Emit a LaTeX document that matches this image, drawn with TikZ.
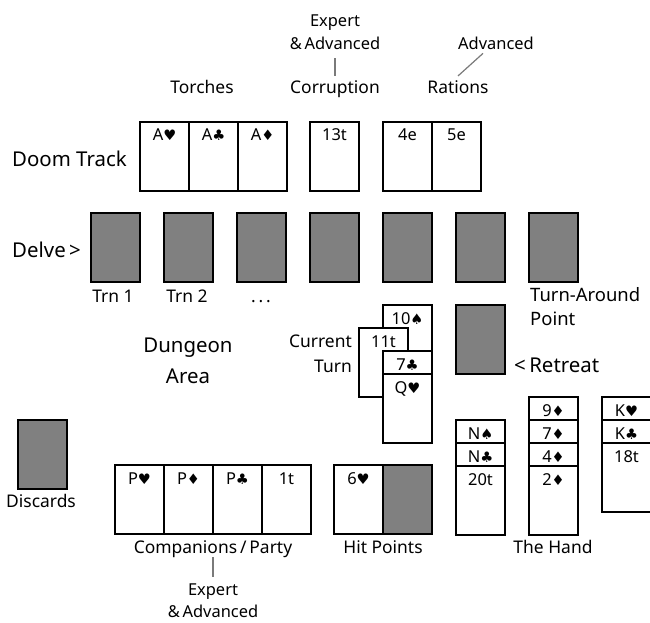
\documentclass[tikz,border=0pt]{standalone}
\usepackage{fontspec}
\setmainfont{Noto Sans}
\newfontfamily\suitfont[Scale=0.88]{DejaVu Sans}
\newcommand\suitH{{\suitfont ♥}}
\newcommand\suitC{{\suitfont ♣}}
\newcommand\suitD{{\suitfont ♦}}
\newcommand\suitS{{\suitfont ♠}}
\definecolor{cardgray}{HTML}{808080}
\definecolor{linegray}{HTML}{7A7A7A}
\newcommand\cardnode[4][card]{%
  \node[#1] (#2) at (#3) {};
  \node[ctext] (#2t) at ([yshift=-19bp]#2.north) {#4};}
\begin{document}
\begin{tikzpicture}[x=1bp,y=-1bp,
  card/.style={draw=black, line width=1.6bp, fill=white, minimum width=49bp,
    minimum height=69bp, anchor=north west, inner sep=0pt, outer sep=0pt},
  back/.style={card, fill=cardgray},
  ctext/.style={anchor=base, inner sep=0pt, font=\fontsize{16.5}{18}\selectfont},
  big/.style={inner sep=0pt, font=\fontsize{20.5}{24}\selectfont},
  lbl/.style={inner sep=0pt, font=\fontsize{17.5}{20}\selectfont},
  small/.style={inner sep=0pt, font=\fontsize{16.5}{19}\selectfont},
  conn/.style={draw=linegray, line width=1.2bp}]
\fill[white] (0,0) rectangle (650,623);
\useasboundingbox (0,0) rectangle (650,623);

% --- top labels
\node[small, anchor=base] (exA) at (335,27) {Expert};
\node[small, anchor=base] (exB) at (335,50) {\&\,Advanced};
\node[small, anchor=base] (adv) at (496,50) {Advanced};
\node[lbl, anchor=base] (torch) at (202,94) {Torches};
\node[lbl, anchor=base] (corr) at (335,94) {Corruption};
\node[lbl, anchor=base] (rat) at (458,94) {Rations};
\draw[conn] ([yshift=-8bp]exB.south) -- ([yshift=5bp]corr.north);
\draw[conn] ([xshift=-13bp,yshift=-3bp]adv.south) -- ([yshift=5bp]rat.north);

% --- doom track
\node[big, anchor=base west] (doom) at (12,167) {Doom Track};
\cardnode{tA}{140,122}{A\suitH}
\cardnode{tB}{189,122}{A\suitC}
\cardnode{tC}{238,122}{A\suitD}
\cardnode{cor}{310,122}{13t}
\cardnode{rA}{383,122}{4e}
\cardnode{rB}{432,122}{5e}

% --- delve row
\node[big, anchor=base west] (delve) at (12,257) {Delve\,>};
\node[back] (d1) at (91,213) {};
\node[back] (d2) at (164,213) {};
\node[back] (d3) at (237,213) {};
\node[back] (d4) at (310,213) {};
\node[back] (d5) at (383,213) {};
\node[back] (d6) at (456,213) {};
\node[back] (d7) at (529,213) {};
\node[lbl, anchor=base] (trn1) at (113,302) {Trn 1};
\node[lbl, anchor=base] (trn2) at (187,302) {Trn 2};
\node[lbl, anchor=base] (dots) at (261,302) {.\,.\,.};
\node[lbl, anchor=base west, font=\fontsize{18.5}{20}\selectfont] (tap1) at (530,301) {Turn-Around};
\node[lbl, anchor=base west, font=\fontsize{18.5}{20}\selectfont] (tap2) at (530,325) {Point};

% --- dungeon area
\node[big, anchor=base] (dung1) at (188,352) {Dungeon};
\node[big, anchor=base] (dung2) at (188,383) {Area};
\node[lbl, anchor=base east] (cur1) at (352,347) {Current};
\node[lbl, anchor=base east] (cur2) at (352,372) {Turn};
\cardnode{s1}{383,305}{10\suitS}
\cardnode{s2}{359,328}{11t}
\cardnode{s3}{383,351}{7\suitC}
\cardnode{s4}{383,374}{Q\suitH}
\node[back] (ret) at (456,305) {};
\node[big, anchor=base west] (retl) at (514,372) {<\,Retreat};

% --- discards
\node[back] (disc) at (18,420) {};
\node[lbl, anchor=base] (discl) at (41,507) {Discards};

% --- companions / party
\cardnode{pA}{115,465}{P\suitH}
\cardnode{pB}{164,465}{P\suitD}
\cardnode{pC}{213,465}{P\suitC}
\cardnode{pD}{262,465}{1t}
\node[lbl, anchor=base] (party) at (213,553) {Companions\,/\,Party};
\node[small, anchor=base] (exC) at (213,595) {Expert};
\node[small, anchor=base] (exD) at (213,617) {\&\,Advanced};
\draw[conn] (party.south) -- ([yshift=6bp]exC.north);

% --- hit points
\cardnode{hA}{334,465}{6\suitH}
\node[back] (hB) at (383,465) {};
\node[lbl, anchor=base] (hpl) at (383,553) {Hit Points};

% --- the hand
\cardnode{a1}{456,420}{N\suitS}
\cardnode{a2}{456,443}{N\suitC}
\cardnode{a3}{456,466}{20t}
\cardnode{b1}{529,397}{9\suitD}
\cardnode{b2}{529,420}{7\suitD}
\cardnode{b3}{529,443}{4\suitD}
\cardnode{b4}{529,466}{2\suitD}
\cardnode{c1}{602,397}{K\suitH}
\cardnode{c2}{602,420}{K\suitC}
\cardnode{c3}{602,443}{18t}
\node[lbl, anchor=base] (hand) at (553,553) {The Hand};
\end{tikzpicture}
\end{document}
